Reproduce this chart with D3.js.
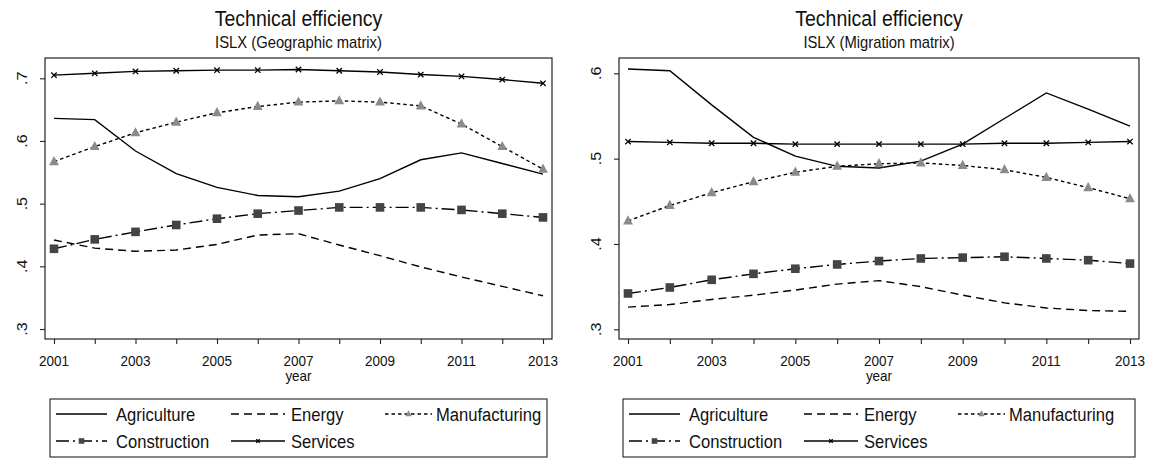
<!DOCTYPE html>
<html>
<head>
<meta charset="utf-8">
<script src="https://cdn.jsdelivr.net/npm/d3@7"></script>
<style>
  html, body { margin: 0; padding: 0; background: #fff; }
  svg { display: block; font-family: "Liberation Sans", Arial, Helvetica, sans-serif; }
</style>
</head>
<body>
<svg id="chart" width="1157" height="461"></svg>
<script>
// ---- data -------------------------------------------------------------
const years = [2001, 2002, 2003, 2004, 2005, 2006, 2007, 2008, 2009, 2010, 2011, 2012, 2013];
const yearLabels = [2001, 2003, 2005, 2007, 2009, 2011, 2013];
const sectors = ["Agriculture", "Energy", "Manufacturing", "Construction", "Services"];

// ISLX, geographic weight matrix
const geoAgriculture  = [0.636, 0.634, 0.584, 0.548, 0.526, 0.513, 0.511, 0.520, 0.540, 0.570, 0.581, 0.564, 0.547];
const geoEnergy       = [0.442, 0.429, 0.424, 0.426, 0.435, 0.450, 0.452, 0.434, 0.417, 0.399, 0.383, 0.368, 0.353];
const geoManufacturing= [0.567, 0.591, 0.613, 0.630, 0.645, 0.655, 0.662, 0.664, 0.662, 0.656, 0.627, 0.591, 0.555];
const geoConstruction = [0.428, 0.443, 0.455, 0.466, 0.476, 0.484, 0.489, 0.494, 0.494, 0.494, 0.490, 0.484, 0.478];
const geoServices     = [0.705, 0.708, 0.711, 0.712, 0.713, 0.713, 0.714, 0.712, 0.710, 0.706, 0.703, 0.698, 0.692];
const geoYTicks = [0.3, 0.4, 0.5, 0.6, 0.7];

// ISLX, migration weight matrix
const migAgriculture  = [0.605, 0.603, 0.563, 0.525, 0.503, 0.491, 0.489, 0.497, 0.517, 0.547, 0.577, 0.558, 0.538];
const migEnergy       = [0.326, 0.329, 0.335, 0.340, 0.346, 0.353, 0.357, 0.350, 0.340, 0.331, 0.325, 0.322, 0.321];
const migManufacturing= [0.427, 0.445, 0.460, 0.473, 0.484, 0.491, 0.494, 0.495, 0.492, 0.487, 0.478, 0.466, 0.453];
const migConstruction = [0.342, 0.349, 0.358, 0.365, 0.371, 0.376, 0.380, 0.383, 0.384, 0.385, 0.383, 0.381, 0.377];
const migServices     = [0.520, 0.519, 0.518, 0.518, 0.517, 0.517, 0.517, 0.517, 0.517, 0.518, 0.518, 0.519, 0.520];
const migYTicks = [0.3, 0.4, 0.5, 0.6];

// ---- styles per sector ------------------------------------------------
const lineStyle = {
  Agriculture:   { dash: null,          marker: null },
  Energy:        { dash: "8,5",         marker: null },
  Manufacturing: { dash: "3.5,3",       marker: "triangle" },
  Construction:  { dash: "13,4,2,4",    marker: "square" },
  Services:      { dash: null,          marker: "cross" }
};

const svg = d3.select("#chart");
const STRETCH = 1.15;   // text is drawn slightly tall and narrow

function label(g, x, y, str, size, anchor, rotate) {
  const t = g.append("g")
    .attr("transform", `translate(${x},${y}) scale(1,${STRETCH})` + (rotate ? ` rotate(${rotate})` : ""))
    .append("text")
    .attr("font-size", size)
    .attr("fill", "#111")
    .attr("text-anchor", anchor || "middle")
    .text(str);
  return t;
}

function drawMarker(g, type, x, y, scale) {
  const s = scale || 1;
  if (type === "triangle") {
    const w = 4.9 * s, up = 5.7 * s, dn = 3.5 * s;
    g.append("path")
      .attr("d", `M${x},${y - up}L${x + w},${y + dn}L${x - w},${y + dn}Z`)
      .attr("fill", "#8a8a8a");
  } else if (type === "square") {
    const h = 4.3 * s;
    g.append("rect")
      .attr("x", x - h).attr("y", y - h)
      .attr("width", 2 * h).attr("height", 2 * h)
      .attr("fill", "#444");
  } else if (type === "cross") {
    const h = 2.7 * s;
    g.append("path")
      .attr("d", `M${x - h},${y - h}L${x + h},${y + h}M${x - h},${y + h}L${x + h},${y - h}`)
      .attr("stroke", "#000").attr("stroke-width", 1.3).attr("fill", "none");
  }
}

function panel(opt) {
  const g = svg.append("g");
  const x = d3.scaleLinear().domain([2001, 2013]).range(opt.xRange);
  const y = d3.scaleLinear().domain(opt.yDomain).range(opt.yRange);
  const f = opt.frame;

  // titles
  const cx = (f.left + f.right) / 2;
  label(g, cx, 26, "Technical efficiency", 19.5);
  label(g, cx, 48, opt.subtitle, 14.8);

  // plot frame
  g.append("rect")
    .attr("x", f.left).attr("y", f.top)
    .attr("width", f.right - f.left).attr("height", f.bottom - f.top)
    .attr("fill", "none").attr("stroke", "#222").attr("stroke-width", 1.2);

  // x axis ticks (every year) and labels (odd years)
  const xAxis = d3.axisBottom(x).tickValues(years).tickSize(5).tickFormat("");
  const xa = g.append("g").attr("transform", `translate(0,${f.bottom})`).call(xAxis);
  xa.select(".domain").remove();
  xa.selectAll(".tick line").attr("stroke", "#222").attr("stroke-width", 1.1);
  yearLabels.forEach(yr => label(g, x(yr), 366, String(yr), 13.5));
  label(g, x(2007), 381, "year", 13.5);

  // y axis ticks and rotated labels
  const yAxis = d3.axisLeft(y).tickValues(opt.yTicks).tickSize(5).tickFormat("");
  const ya = g.append("g").attr("transform", `translate(${f.left},0)`).call(yAxis);
  ya.select(".domain").remove();
  ya.selectAll(".tick line").attr("stroke", "#222").attr("stroke-width", 1.1);
  opt.yTicks.forEach(v => {
    const txt = d3.format(".1f")(v).replace(/^0/, "");
    label(g, f.left - 18, y(v), txt, 14, "middle", -90);
  });

  // series
  const line = d3.line().x((d, i) => x(years[i])).y(d => y(d));
  sectors.forEach(name => {
    const vals = opt.series[name];
    const st = lineStyle[name];
    g.append("path")
      .datum(vals)
      .attr("d", line)
      .attr("fill", "none")
      .attr("stroke", "#000")
      .attr("stroke-width", 1.4)
      .attr("stroke-dasharray", st.dash);
    if (st.marker) vals.forEach((v, i) => drawMarker(g, st.marker, x(years[i]), y(v), 1));
  });

  // legend
  const L = opt.legend;
  g.append("rect")
    .attr("x", L.left).attr("y", L.top)
    .attr("width", L.right - L.left).attr("height", L.bottom - L.top)
    .attr("fill", "#fff").attr("stroke", "#222").attr("stroke-width", 1.1);
  const cols = [L.left + 6, L.left + 181, L.left + 335];
  const sampleW = [51, 54, 47];
  const textX = [L.left + 66, L.left + 241, L.left + 386];
  const rowsY = [L.top + 15, L.top + 42];
  sectors.forEach((name, i) => {
    const c = i % 3, r = Math.floor(i / 3);
    const sx = cols[c], sy = rowsY[r], w = sampleW[c];
    const st = lineStyle[name];
    g.append("line")
      .attr("x1", sx).attr("x2", sx + w).attr("y1", sy).attr("y2", sy)
      .attr("stroke", "#000").attr("stroke-width", 1.3)
      .attr("stroke-dasharray", st.dash);
    if (st.marker) drawMarker(g, st.marker, sx + w / 2, sy, 0.65);
    label(g, textX[c], sy + 7, name, 16.6, "start");
  });
}

panel({
  subtitle: "ISLX (Geographic matrix)",
  frame: { left: 45, right: 552, top: 58, bottom: 339 },
  xRange: [54, 543],
  yDomain: [0.3, 0.7], yRange: [329, 78.3],
  yTicks: geoYTicks,
  series: { Agriculture: geoAgriculture, Energy: geoEnergy, Manufacturing: geoManufacturing,
            Construction: geoConstruction, Services: geoServices },
  legend: { left: 50, right: 547, top: 399, bottom: 457 }
});

panel({
  subtitle: "ISLX (Migration matrix)",
  frame: { left: 619, right: 1139, top: 58, bottom: 339 },
  xRange: [628, 1130],
  yDomain: [0.3, 0.6], yRange: [329.3, 73.3],
  yTicks: migYTicks,
  series: { Agriculture: migAgriculture, Energy: migEnergy, Manufacturing: migManufacturing,
            Construction: migConstruction, Services: migServices },
  legend: { left: 623, right: 1135, top: 399, bottom: 457 }
});
</script>
</body>
</html>
